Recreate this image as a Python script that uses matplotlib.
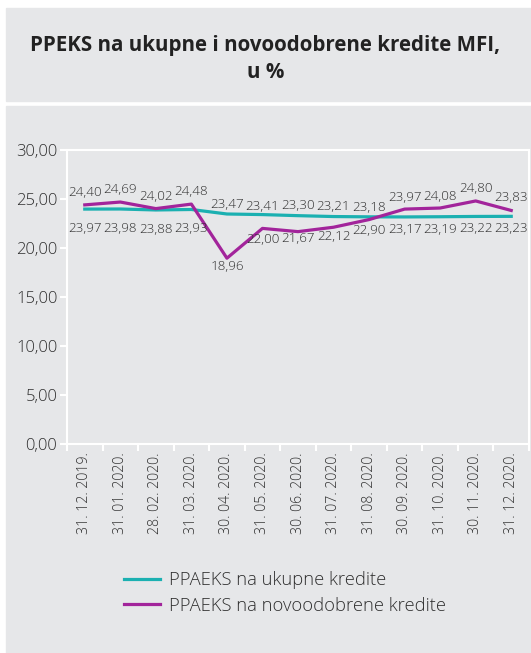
import numpy as np
import matplotlib.pyplot as plt
from matplotlib.patches import Rectangle

plt.rcParams['font.family'] = ['Open Sans', 'DejaVu Sans']

dates = ['31. 12. 2019.', '31. 01. 2020.', '28. 02. 2020.', '31. 03. 2020.',
         '30. 04. 2020.', '31. 05. 2020.', '30. 06. 2020.', '31. 07. 2020.',
         '31. 08. 2020.', '30. 09. 2020.', '31. 10. 2020.', '30. 11. 2020.',
         '31. 12. 2020.']
ukupne = [23.97, 23.98, 23.88, 23.93, 23.47, 23.41, 23.30, 23.21, 23.18,
          23.17, 23.19, 23.22, 23.23]
novoodobrene = [24.40, 24.69, 24.02, 24.48, 18.96, 22.00, 21.67, 22.12, 22.90,
                23.97, 24.08, 24.80, 23.83]
# label offset in points (+ above the point, - below)
ukupne_off = [-14, -14, -14, -14, 7, 6, 7, 7, 7, -9, -9, -9, -9]
novo_off = [9, 9, 9, 9, -6, -8, -5, -7, -8, 8, 8, 9, 9]

teal = '#1bb0b1'
purple = '#a2249b'
panel = '#e6e7e9'
txt = '#2f2f2f'

fig = plt.figure(figsize=(5.31, 6.53), dpi=100)
fig.patch.set_facecolor('white')
W, H = 531, 653
fig.add_artist(Rectangle((6 / W, 1 - 101 / H), 525 / W, 93 / H,
                         transform=fig.transFigure, color=panel, zorder=-10))
fig.add_artist(Rectangle((6 / W, 0), 525 / W, 1 - 106 / H,
                         transform=fig.transFigure, color=panel, zorder=-10))

fig.text(0.5, 1 - 46 / H, 'PPEKS na ukupne i novoodobrene kredite MFI,',
         ha='center', va='center', fontsize=14.8, fontweight='bold', color='#222222')
fig.text(0.5, 1 - 73 / H, 'u %', ha='center', va='center', fontsize=14.8,
         fontweight='bold', color='#222222')

ax = fig.add_axes([67 / W, 1 - 444 / H, 462 / W, 294 / H])
ax.set_facecolor(panel)
x = np.arange(len(dates))
ax.plot(x, ukupne, color=teal, lw=2.3, label='PPAEKS na ukupne kredite')
ax.plot(x, novoodobrene, color=purple, lw=2.3, label='PPAEKS na novoodobrene kredite')

def fmt(v):
    return f'{v:.2f}'.replace('.', ',')

for xi, v, o in zip(x, ukupne, ukupne_off):
    ax.annotate(fmt(v), (xi, v), xytext=(0, o), textcoords='offset points',
                ha='center', va='center', fontsize=9.6, color=txt, fontweight='light')
for xi, v, o in zip(x, novoodobrene, novo_off):
    ax.annotate(fmt(v), (xi, v), xytext=(0, o), textcoords='offset points',
                ha='center', va='center', fontsize=9.6, color=txt, fontweight='light')

ax.set_xlim(-0.5, len(dates) - 0.5)
ax.set_ylim(0, 30)
ax.set_yticks(np.arange(0, 31, 5))
ax.set_yticklabels([fmt(v) for v in np.arange(0, 31, 5)], fontsize=12, color=txt,
                   fontweight='light')
ax.set_xticks(x)
ax.set_xticklabels(dates, rotation=90, fontsize=10.2, color=txt, fontweight='light')
ax.set_xticks(np.arange(-0.5, len(dates)), minor=True)
ax.tick_params(axis='x', which='major', length=0, pad=6)
ax.tick_params(axis='x', which='minor', length=5, color='white', width=1.5)
ax.tick_params(axis='y', length=5, color='white', width=1.5, pad=2)
for s in ax.spines.values():
    s.set_color('white')
    s.set_linewidth(1.5)

fig.legend(loc='center', bbox_to_anchor=(0.536, 1 - 593 / H), frameon=False,
           handlelength=2.0, handletextpad=0.45, labelcolor=txt,
           labelspacing=0.4, prop={'size': 13.2, 'weight': 'light'})

fig.savefig('out.png', dpi=100)
